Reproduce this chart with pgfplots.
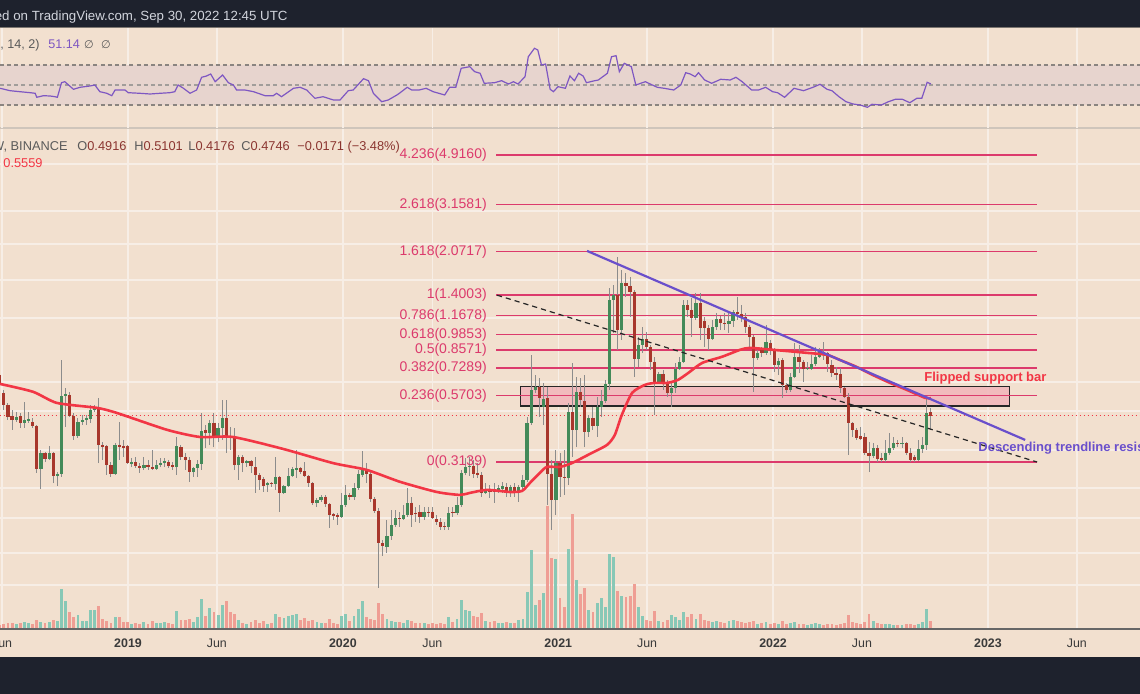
\documentclass[border=0pt]{standalone}
\usepackage{pgfplots}
\pgfplotsset{compat=1.18}
\usepackage{pgfplotstable}
\usepackage{fontspec}
\setmainfont{Liberation Sans}
\newfontfamily\dejavu{DejaVu Sans}

\definecolor{bg}{HTML}{F2E0CF}
\definecolor{dark}{HTML}{1E222D}
\definecolor{gridc}{HTML}{F7EEE6}
\definecolor{fib}{HTML}{DC3A6C}
\definecolor{rsic}{HTML}{7E57C2}
\definecolor{band}{HTML}{E7D4CE}
\definecolor{mac}{HTML}{F23645}
\definecolor{trend}{HTML}{6A4FCB}
\definecolor{upc}{HTML}{438A59}
\definecolor{dnc}{HTML}{A8372C}
\definecolor{wickc}{HTML}{8C8C8C}
\definecolor{rectc}{HTML}{F1B7BC}
\definecolor{volup}{HTML}{88C8B6}
\definecolor{voldn}{HTML}{EF9E94}
\definecolor{txtgray}{HTML}{5A5A5A}
\definecolor{valred}{HTML}{8B3530}
\definecolor{axistext}{HTML}{3A3A3A}
\definecolor{topt}{HTML}{D1D4DC}
\definecolor{sepc}{HTML}{CFC5BB}
\definecolor{dashg}{HTML}{8A8480}

% weekly candles: w = week index (0 = week of 31 Dec 2018), o h l c, v = volume (relative)
\pgfplotstableread{
w o h l c v
-31 0.685 0.704 0.610 0.626 4
-30 0.583 0.599 0.501 0.524 5
-29 0.524 0.533 0.458 0.470 6
-28 0.475 0.501 0.419 0.458 6
-27 0.458 0.492 0.450 0.470 5
-26 0.475 0.488 0.426 0.446 6
-25 0.446 0.538 0.426 0.458 7
-24 0.454 0.492 0.446 0.462 6
-23 0.450 0.466 0.426 0.434 5
-22 0.434 0.438 0.285 0.295 9
-21 0.295 0.350 0.247 0.341 7
-20 0.341 0.344 0.314 0.323 6
-19 0.323 0.363 0.320 0.341 7
-18 0.341 0.344 0.260 0.277 9
-17 0.277 0.287 0.2535 0.282 8
-16 0.282 0.784 0.275 0.568 40
-15 0.568 0.610 0.430 0.578 28
-14 0.573 0.589 0.470 0.475 17
-13 0.475 0.488 0.383 0.397 12
-12 0.397 0.466 0.390 0.450 14
-11 0.450 0.479 0.438 0.458 8
-10 0.458 0.479 0.438 0.466 8
-9 0.462 0.524 0.446 0.501 19
-8 0.501 0.524 0.492 0.510 19
-7 0.510 0.558 0.311 0.366 23
-6 0.366 0.376 0.320 0.359 10
-5 0.363 0.366 0.280 0.306 8
-4 0.306 0.314 0.275 0.282 6
-3 0.282 0.373 0.280 0.366 12
-2 0.366 0.450 0.320 0.359 12
-1 0.363 0.383 0.329 0.356 7
0 0.363 0.366 0.309 0.311 7
1 0.309 0.326 0.300 0.314 5
2 0.314 0.329 0.298 0.303 6
3 0.303 0.311 0.285 0.298 5
4 0.298 0.329 0.2925 0.306 7
5 0.306 0.320 0.2925 0.300 5
6 0.300 0.350 0.2925 0.295 8
7 0.295 0.320 0.2925 0.306 6
8 0.306 0.326 0.300 0.311 6
9 0.311 0.326 0.300 0.317 7
10 0.314 0.320 0.298 0.303 6
11 0.306 0.314 0.2925 0.300 5
12 0.300 0.393 0.280 0.363 18
13 0.359 0.366 0.320 0.329 9
14 0.329 0.341 0.2925 0.320 9
15 0.320 0.329 0.263 0.287 10
16 0.287 0.300 0.275 0.298 7
17 0.298 0.320 0.275 0.309 12
18 0.309 0.488 0.2925 0.415 30
19 0.419 0.438 0.356 0.408 13
20 0.408 0.458 0.366 0.446 21
21 0.446 0.488 0.359 0.393 17
22 0.393 0.446 0.376 0.426 14
23 0.426 0.548 0.383 0.466 24
24 0.466 0.548 0.341 0.393 28
25 0.397 0.430 0.350 0.390 17
26 0.393 0.426 0.2925 0.306 15
27 0.306 0.335 0.2675 0.329 9
28 0.329 0.335 0.287 0.311 6
29 0.311 0.320 0.300 0.317 5
30 0.317 0.320 0.285 0.303 7
31 0.300 0.329 0.238 0.280 9
32 0.280 0.285 0.2445 0.2675 6
33 0.270 0.275 0.240 0.2535 8
34 0.256 0.263 0.240 0.260 5
35 0.260 0.263 0.251 0.258 6
36 0.258 0.329 0.2445 0.275 15
37 0.275 0.277 0.2008 0.238 12
38 0.238 0.256 0.236 0.2535 11
39 0.2535 0.298 0.251 0.277 13
40 0.277 0.300 0.275 0.295 14
41 0.2925 0.350 0.272 0.298 15
42 0.298 0.300 0.282 0.287 9
43 0.290 0.314 0.275 0.277 11
44 0.277 0.280 0.251 0.260 8
45 0.260 0.263 0.214 0.218 9
46 0.218 0.228 0.210 0.2236 7
47 0.2236 0.234 0.220 0.230 6
48 0.230 0.234 0.210 0.216 6
49 0.216 0.218 0.1740 0.1955 10
50 0.1972 0.1990 0.1869 0.1937 6
51 0.1955 0.1990 0.1787 0.1920 5
52 0.1920 0.238 0.1902 0.214 13
53 0.214 0.256 0.210 0.234 15
54 0.234 0.238 0.2236 0.230 8
55 0.230 0.260 0.2236 0.249 13
56 0.249 0.2925 0.2445 0.282 20
57 0.280 0.347 0.275 0.2925 28
58 0.2925 0.311 0.260 0.282 12
59 0.282 0.287 0.220 0.226 10
60 0.226 0.230 0.1990 0.2026 9
61 0.2026 0.208 0.1016 0.1521 26
62 0.1521 0.1563 0.1354 0.1481 15
63 0.1468 0.1869 0.1391 0.1619 10
64 0.1619 0.2044 0.1563 0.1787 8
65 0.1787 0.2044 0.1755 0.1902 7
66 0.1902 0.2008 0.1755 0.1886 7
67 0.1886 0.214 0.1869 0.1955 6
68 0.1955 0.249 0.1920 0.218 9
69 0.218 0.230 0.1755 0.1955 8
70 0.1990 0.210 0.1836 0.1972 6
71 0.2008 0.214 0.1820 0.1920 6
72 0.1920 0.210 0.1869 0.2008 6
73 0.2008 0.210 0.1920 0.1990 5
74 0.2008 0.210 0.1886 0.1902 6
75 0.1886 0.1955 0.1787 0.1836 5
76 0.1836 0.1902 0.1708 0.1755 6
77 0.1771 0.1836 0.1708 0.1755 5
78 0.1755 0.210 0.1708 0.1990 12
79 0.2008 0.210 0.1920 0.1990 7
80 0.1990 0.230 0.1955 0.214 10
81 0.214 0.2925 0.210 0.285 29
82 0.285 0.326 0.280 0.300 19
83 0.300 0.329 0.277 0.303 18
84 0.303 0.320 0.272 0.282 13
85 0.285 0.311 0.272 0.280 12
86 0.280 0.287 0.230 0.238 16
87 0.238 0.260 0.236 0.2445 8
88 0.2445 0.256 0.228 0.240 7
89 0.2445 0.260 0.218 0.240 8
90 0.240 0.256 0.238 0.249 6
91 0.247 0.263 0.238 0.2535 6
92 0.251 0.260 0.230 0.238 7
93 0.238 0.256 0.230 0.251 6
94 0.251 0.260 0.230 0.238 6
95 0.238 0.256 0.220 0.251 9
96 0.251 0.280 0.2445 0.2675 10
97 0.2675 0.470 0.263 0.446 37
98 0.446 0.820 0.438 0.599 79
99 0.599 0.685 0.583 0.615 24
100 0.615 0.667 0.470 0.558 29
101 0.514 0.638 0.438 0.553 36
102 0.558 0.615 0.214 0.282 123
103 0.282 0.320 0.1708 0.2236 71
104 0.2236 0.350 0.1955 0.311 70
105 0.311 0.341 0.230 0.275 31
106 0.275 0.350 0.234 0.272 22
107 0.272 0.533 0.256 0.492 80
108 0.492 0.763 0.329 0.419 115
109 0.419 0.673 0.359 0.589 49
110 0.589 0.667 0.514 0.548 35
111 0.543 0.685 0.359 0.411 41
112 0.411 0.479 0.393 0.466 19
113 0.466 0.514 0.419 0.434 17
114 0.434 0.563 0.393 0.514 26
115 0.514 0.599 0.470 0.543 31
116 0.543 0.655 0.533 0.632 22
117 0.632 1.494 0.599 1.342 75
118 1.342 1.535 0.999 1.403 72
119 1.403 1.97 0.858 1.026 38
120 1.026 1.756 0.938 1.562 33
121 1.562 1.709 1.378 1.521 32
122 1.521 1.649 1.153 1.442 33
123 1.442 1.468 0.673 0.792 45
124 0.792 0.963 0.736 0.897 22
125 0.897 1.054 0.835 0.946 13
126 0.946 1.008 0.858 0.881 9
127 0.881 0.897 0.7165 0.770 8
128 0.770 0.806 0.479 0.643 18
129 0.643 0.704 0.638 0.691 8
130 0.691 0.7165 0.599 0.638 7
131 0.638 0.655 0.563 0.583 9
132 0.583 0.643 0.514 0.610 14
133 0.610 0.763 0.583 0.723 12
134 0.723 0.806 0.7165 0.770 9
135 0.770 1.342 0.763 1.283 17
136 1.283 1.342 1.153 1.227 12
137 1.227 1.366 0.963 1.142 15
138 1.142 1.429 1.122 1.307 10
139 1.307 1.429 0.938 1.044 15
140 1.112 1.153 0.881 1.044 9
141 1.044 1.073 0.858 0.946 8
142 0.946 1.122 0.938 1.054 7
143 1.054 1.195 1.026 1.132 8
144 1.132 1.163 1.026 1.092 7
145 1.092 1.195 1.026 1.083 6
146 1.083 1.195 0.999 1.112 8
147 1.112 1.227 1.054 1.205 9
148 1.205 1.379 1.122 1.184 8
149 1.184 1.283 1.102 1.153 7
150 1.153 1.195 0.999 1.054 6
151 1.054 1.073 0.881 0.963 7
152 0.963 0.981 0.589 0.799 8
153 0.799 0.858 0.784 0.835 5
154 0.865 0.881 0.806 0.835 6
155 0.835 1.073 0.820 0.921 7
156 0.913 0.938 0.820 0.858 5
157 0.858 0.873 0.704 0.750 6
158 0.750 0.799 0.685 0.777 5
159 0.784 0.799 0.558 0.626 8
160 0.626 0.638 0.583 0.599 5
161 0.599 0.698 0.589 0.673 6
162 0.673 0.913 0.667 0.806 7
163 0.806 0.897 0.698 0.770 5
164 0.770 0.784 0.643 0.723 5
165 0.723 0.770 0.7165 0.730 4
166 0.723 0.820 0.7165 0.756 5
167 0.756 0.881 0.743 0.806 6
168 0.806 0.873 0.799 0.858 5
169 0.843 0.921 0.784 0.820 4
170 0.835 0.843 0.704 0.756 5
171 0.750 0.784 0.673 0.698 5
172 0.698 0.736 0.655 0.685 4
173 0.691 0.730 0.583 0.610 5
174 0.610 0.615 0.558 0.563 6
175 0.563 0.583 0.335 0.446 14
176 0.446 0.450 0.393 0.419 7
177 0.419 0.426 0.383 0.390 6
178 0.397 0.430 0.383 0.386 5
179 0.393 0.408 0.335 0.341 7
180 0.341 0.376 0.287 0.332 15
181 0.332 0.373 0.326 0.356 8
182 0.356 0.366 0.314 0.323 6
183 0.326 0.341 0.314 0.320 5
184 0.320 0.383 0.314 0.341 5
185 0.341 0.408 0.335 0.356 5
186 0.356 0.393 0.350 0.373 4
187 0.373 0.383 0.359 0.369 4
188 0.369 0.393 0.356 0.373 4
189 0.373 0.376 0.335 0.341 5
190 0.341 0.356 0.314 0.320 5
191 0.329 0.335 0.314 0.320 4
192 0.320 0.383 0.317 0.353 5
193 0.353 0.393 0.341 0.366 7
194 0.366 0.563 0.350 0.488 20
195 0.4916 0.5101 0.4176 0.4746 8
}\ohlc

\pgfplotstableread{
w m
-30.9 0.632
-22.9 0.589
-17.1 0.533
-7.4 0.510
-2.5 0.487
9.6 0.419
17.6 0.393
25.6 0.393
37.8 0.353
49.9 0.311
58.1 0.2925
66.2 0.2628
75.1 0.240
80.7 0.2338
83.1 0.238
87.3 0.2446
92.9 0.240
95.8 0.2424
97.7 0.2604
100.1 0.2847
101.8 0.3005
105 0.3005
107.9 0.311
111.8 0.3347
116.4 0.366
118.3 0.4003
120.0 0.4789
122.5 0.5833
125.6 0.6266
128.0 0.638
131.0 0.638
133.6 0.655
136.1 0.697
139.5 0.763
144.3 0.806
148.7 0.858
151.1 0.873
156.7 0.858
164.9 0.835
169.8 0.820
172.9 0.784
177.0 0.736
180.9 0.685
185.1 0.638
189.2 0.599
193.6 0.558
195 0.5559
}\matab

\pgfplotstableread{
w r
-30.9 46.7
-28.5 44.3
-26.1 43.3
-23.6 42.3
-22.4 41.7
-22.0 37.7
-20.4 39.3
-18.8 39.0
-17.6 38.3
-17.0 37.7
-16.0 52.3
-15.2 53.3
-13.1 45.7
-11.5 47.7
-9.1 49.0
-7.9 50.0
-6.7 43.3
-5.0 41.7
-3.8 39.3
-3.0 45.0
-0.6 45.0
0.2 42.3
3.0 41.7
5.5 41.0
7.9 41.7
10.3 42.3
11.5 43.3
12.3 50.0
13.6 46.7
15.2 41.7
16.8 45.0
18.0 57.7
19.2 59.0
20.2 61.0
21.3 53.3
23.1 60.0
24.5 52.3
25.7 50.0
26.5 45.0
28.5 45.0
30.6 43.3
33.4 39.3
35.4 39.3
36.2 41.7
37.4 38.3
40.3 46.7
41.9 47.7
43.5 45.0
45.5 36.7
47.5 38.3
50.0 35.0
51.6 35.0
53.6 44.3
54.8 45.0
57.3 56.3
58.5 54.3
59.7 41.7
61.7 33.3
63.3 35.0
65.4 40.0
66.2 42.3
67.9 47.7
69.0 45.0
70.8 45.0
72.5 46.7
74.2 43.3
77.0 40.0
78.2 47.7
79.7 47.7
81.0 66.7
83.1 68.3
84.3 63.3
85.6 61.7
86.6 51.7
89.1 52.3
90.8 54.3
92.5 51.0
93.7 53.3
94.8 51.0
96.5 58.3
97.3 78.3
98.8 86.7
99.6 85.0
100.5 70.0
101.5 71.0
102.6 45.7
103.4 43.3
104.5 48.3
106.3 46.7
107.4 59.0
108.5 54.3
109.5 61.7
110.6 59.0
111.4 52.3
113.1 54.0
114.3 55.0
116.5 61.7
117.5 78.3
118.6 79.3
119.4 63.3
120.6 71.7
122.3 68.3
123.4 50.0
125.7 53.3
128.6 47.7
130.3 46.7
132.6 45.0
134.3 50.0
135.5 62.3
136.6 61.0
137.8 58.3
138.6 62.3
140.1 55.0
141.8 51.7
144.0 55.7
146.3 55.0
147.7 57.7
149.2 53.3
151.5 45.0
153.2 45.0
154.9 47.7
156.6 43.3
157.8 42.3
159.5 37.7
161.8 46.7
164.1 44.3
166.4 47.7
168.1 50.7
169.8 45.7
171.0 44.3
172.7 38.3
174.4 33.3
176.1 31.0
177.8 30.0
179.6 27.7
180.7 30.7
183.0 30.0
184.7 33.3
186.4 35.7
188.1 35.7
189.9 32.3
191.6 36.7
192.8 36.7
194.1 52.7
195.0 51.1
}\rsitab

% build coordinate streams for wicks, bodies and volume bars
\def\wicklist{}\def\upbody{}\def\dnbody{}\def\upvol{}\def\dnvol{}
\pgfplotstablegetrowsof{\ohlc}
\pgfmathtruncatemacro\nrows{\pgfplotsretval-1}
\foreach \i in {0,...,\nrows}{%
  \pgfplotstablegetelem{\i}{w}\of\ohlc \let\cw\pgfplotsretval
  \pgfplotstablegetelem{\i}{o}\of\ohlc \let\co\pgfplotsretval
  \pgfplotstablegetelem{\i}{h}\of\ohlc \let\ch\pgfplotsretval
  \pgfplotstablegetelem{\i}{l}\of\ohlc \let\cl\pgfplotsretval
  \pgfplotstablegetelem{\i}{c}\of\ohlc \let\cc\pgfplotsretval
  \pgfplotstablegetelem{\i}{v}\of\ohlc \let\cv\pgfplotsretval
  \xdef\wicklist{\wicklist (\cw,\cl) (\cw,\ch) (\cw,nan)}%
  \ifdim\cc pt<\co pt
    \xdef\dnbody{\dnbody (\cw,\co) (\cw,\cc) (\cw,nan)}%
    \xdef\dnvol{\dnvol (\cw,\cv)}%
  \else
    \xdef\upbody{\upbody (\cw,\co) (\cw,\cc) (\cw,nan)}%
    \xdef\upvol{\upvol (\cw,\cv)}%
  \fi
}

\pgfplotsset{
  base/.style={scale only axis, width=570pt, xmin=-30.93, xmax=245.77,
    anchor=north west, axis line style={draw=none}, tick style={draw=none},
    xtick={-30.43,0.143,21.71,52.29,74.0,104.57,126.14,156.71,178.29,208.86,230.43},
    xticklabels={}, yticklabels={},
    major grid style={draw=gridc, line width=0.75pt},
    unbounded coords=jump},
  wick/.style={draw=wickc, line width=0.5pt},
  upb/.style={draw=upc, line width=1.6pt, line cap=butt},
  dnb/.style={draw=dnc, line width=1.6pt, line cap=butt},
  vup/.style={ycomb, draw=volup, line width=1.45pt},
  vdn/.style={ycomb, draw=voldn, line width=1.45pt},
  fibl/.style={draw=fib, color=fib, line width=0.85pt},
}

\begin{document}
\begin{tikzpicture}
\begin{scope}[x=0.5pt,y=-0.5pt]
\fill[bg] (0,0) rectangle (1140,694);
\fill[dark] (0,0) rectangle (1140,27);
\fill[dark] (0,657) rectangle (1140,694);
\draw[sepc, line width=0.6pt] (0,128) -- (1140,128);
\end{scope}

% ---------- RSI panel ----------
\begin{axis}[base, at={(0pt,-14pt)}, height=50pt, ymin=7, ymax=107,
  xmajorgrids, ymajorgrids, ytick={40}]
\addplot[fill=band, draw=none] coordinates {(-31,30) (246,30) (246,70) (-31,70)} -- cycle;
\addplot[dashg, line width=0.6pt, dash pattern=on 2pt off 1.6pt] coordinates {(-31,70) (246,70)};
\addplot[dashg!80, line width=0.55pt, dash pattern=on 2pt off 1.6pt] coordinates {(-31,50) (246,50)};
\addplot[dashg, line width=0.6pt, dash pattern=on 2pt off 1.6pt] coordinates {(-31,30) (246,30)};
\addplot[rsic, line width=0.6pt] table[x=w, y=r] {\rsitab};
\end{axis}

% ---------- volume + grid + date labels ----------
\begin{axis}[base, at={(0pt,-64.5pt)}, height=250pt, ymin=0, ymax=500,
  xmajorgrids, ymajorgrids,
  ytick={465,418,385,349,311,247,218,179,141,111,76,44},
  xticklabels={Jun,\textbf{2019},Jun,\textbf{2020},Jun,\textbf{2021},Jun,\textbf{2022},Jun,\textbf{2023},Jun},
  xticklabel style={font=\fontsize{6.2pt}{7pt}\selectfont, text=axistext, anchor=center, yshift=-7pt}]
\edef\tmp{\noexpand\addplot[vup] coordinates {\upvol};}\tmp
\edef\tmp{\noexpand\addplot[vdn] coordinates {\dnvol};}\tmp
\end{axis}

% ---------- price panel (log) ----------
\begin{axis}[base, at={(0pt,-64.5pt)}, height=250pt, ymode=log,
  ymin=0.07032, ymax=6.206, xtick=\empty, ytick=\empty]
% flipped support bar
\addplot[draw=black!85, line width=0.6pt, fill=rectc, fill opacity=0.9]
  coordinates {(95.5,0.519) (214.0,0.519) (214.0,0.6155) (95.5,0.6155)} -- cycle;
% fibonacci levels
\addplot[fibl] coordinates {(89.46,4.916) (220.8,4.916)};
\addplot[fibl] coordinates {(89.46,3.1581) (220.8,3.1581)};
\addplot[fibl] coordinates {(89.46,2.0717) (220.8,2.0717)};
\addplot[fibl] coordinates {(89.46,1.4003) (220.8,1.4003)};
\addplot[fibl] coordinates {(89.46,1.1678) (220.8,1.1678)};
\addplot[fibl] coordinates {(89.46,0.9853) (220.8,0.9853)};
\addplot[fibl] coordinates {(89.46,0.8571) (220.8,0.8571)};
\addplot[fibl] coordinates {(89.46,0.7289) (220.8,0.7289)};
\addplot[fibl] coordinates {(89.46,0.5703) (220.8,0.5703)};
\addplot[fibl] coordinates {(89.46,0.3139) (220.8,0.3139)};
% current price line
\addplot[mac, line width=0.55pt, dash pattern=on 0.8pt off 1.2pt] coordinates {(-31,0.4746) (246,0.4746)};
% candles
\edef\tmp{\noexpand\addplot[wick] coordinates {\wicklist};}\tmp
\edef\tmp{\noexpand\addplot[upb] coordinates {\upbody};}\tmp
\edef\tmp{\noexpand\addplot[dnb] coordinates {\dnbody};}\tmp
% moving average
\addplot[mac, line width=1.3pt, smooth, tension=0.4] table[x=w, y=m] {\matab};
% trend lines
\addplot[black!85, line width=0.6pt, dash pattern=on 2.6pt off 2pt] coordinates {(89.7,1.4003) (220.8,0.3139)};
\addplot[trend, line width=1.1pt] coordinates {(111.55,2.082) (217.9,0.3827)};
% fib labels
\begin{scope}[every node/.style={anchor=east, text=fib, inner sep=0pt, font=\fontsize{7pt}{8pt}\selectfont}]
\node at (axis cs:87.3,4.916) {4.236(4.9160)};
\node at (axis cs:87.3,3.1581) {2.618(3.1581)};
\node at (axis cs:87.3,2.0717) {1.618(2.0717)};
\node at (axis cs:87.3,1.4003) {1(1.4003)};
\node at (axis cs:87.3,1.1678) {0.786(1.1678)};
\node at (axis cs:87.3,0.9853) {0.618(0.9853)};
\node at (axis cs:87.3,0.8571) {0.5(0.8571)};
\node at (axis cs:87.3,0.7289) {0.382(0.7289)};
\node at (axis cs:87.3,0.5703) {0.236(0.5703)};
\node at (axis cs:87.3,0.3139) {0(0.3139)};
\end{scope}
\end{axis}

% ---------- texts ----------
\begin{scope}[x=0.5pt,y=-0.5pt, every node/.style={inner sep=0pt}]
\draw[black!60, line width=0.6pt] (0,629) -- (1140,629);
\draw[sepc!60!black, line width=0.5pt] (0,27.3) -- (1140,27.3);
\node[anchor=base east, text=topt, font=\fontsize{6.65pt}{8pt}\selectfont] at (288,21) {Published on TradingView.com, Sep 30, 2022 12:45 UTC};
\node[anchor=base east, text=txtgray, font=\fontsize{6.3pt}{8pt}\selectfont] at (40,49) {RSI (14, close, SMA, 14, 2)};
\node[anchor=base west, text=rsic, font=\fontsize{6.3pt}{8pt}\selectfont] at (48,49) {51.14};
\node[anchor=base, text=txtgray, font=\dejavu\fontsize{5.5pt}{8pt}\selectfont] at (89,49) {∅};
\node[anchor=base, text=txtgray, font=\dejavu\fontsize{5.5pt}{8pt}\selectfont] at (106,49) {∅};
\begin{scope}[every node/.append style={font=\fontsize{6.4pt}{8pt}\selectfont, anchor=base west}]
\node[anchor=base east, text=txtgray] at (68,151) {XRP / TetherUS, 1W, BINANCE};
\node at (77,151) {\textcolor{txtgray}{O}\textcolor{valred}{0.4916}};
\node at (134,151) {\textcolor{txtgray}{H}\textcolor{valred}{0.5101}};
\node at (188,151) {\textcolor{txtgray}{L}\textcolor{valred}{0.4176}};
\node at (241,151) {\textcolor{txtgray}{C}\textcolor{valred}{0.4746}};
\node at (297,151) {\textcolor{valred}{−0.0171 (−3.48\%)}};
\node[text=mac] at (3,168) {0.5559};
\end{scope}
\node[anchor=west, text=mac, font=\bfseries\fontsize{6.5pt}{8pt}\selectfont] at (924,378) {Flipped support bar};
\node[anchor=west, text=trend, font=\bfseries\fontsize{6.5pt}{8pt}\selectfont] at (978,448) {Descending trendline resistance};
\end{scope}
\pgfresetboundingbox
\useasboundingbox (0pt,0pt) rectangle (570pt,-347pt);
\end{tikzpicture}
\end{document}
